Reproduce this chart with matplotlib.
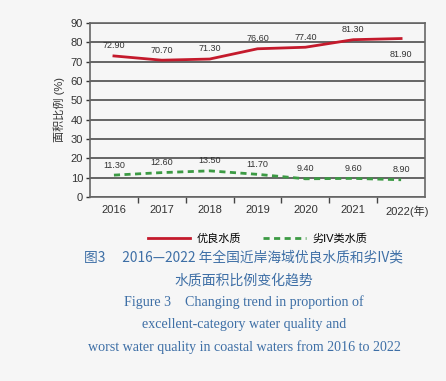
import matplotlib.pyplot as plt
import matplotlib.transforms as mtransforms
from matplotlib.ticker import FixedLocator

plt.rcParams['font.family'] = ['Liberation Sans', 'Noto Sans CJK SC', 'DejaVu Sans']

years = ['2016', '2017', '2018', '2019', '2020', '2021', '2022(年)']
excellent = [72.9, 70.7, 71.3, 76.6, 77.4, 81.3, 81.9]
worst = [11.3, 12.6, 13.5, 11.7, 9.4, 9.6, 8.9]
y_ticks = [0, 10, 20, 30, 40, 50, 60, 70, 80, 90]

bg = '#f6f6f6'
red = '#c41a2c'
green = '#3c9a44'
blue = '#3e6fa6'

fig = plt.figure(figsize=(4.46, 3.81), dpi=100, facecolor=bg)
ax = fig.add_axes([0.2018, 0.483, 0.7512, 0.457], facecolor=bg)

x = list(range(len(years)))
ax.plot(x, excellent, color=red, lw=2, label='优良水质', zorder=3)
ax.plot(x, worst, color=green, lw=2, ls=(0, (2.2, 1.6)), label='劣IV类水质', zorder=3)

for i, v in enumerate(excellent):
    off = -8 if i == 6 else 4
    va = 'top' if i == 6 else 'bottom'
    ax.annotate(f'{v:.2f}', (i, v), xytext=(0, off), textcoords='offset points',
                ha='center', va=va, fontsize=6.5, color='#333333')
for i, v in enumerate(worst):
    ax.annotate(f'{v:.2f}', (i, v), xytext=(0, 4), textcoords='offset points',
                ha='center', va='bottom', fontsize=6.5, color='#333333')

ax.set_xlim(-0.5, 6.5)
ax.set_ylim(0, 90)
ax.set_yticks(y_ticks)
ax.set_xticks(x)
ax.set_xticklabels(years)
ax.xaxis.set_minor_locator(FixedLocator([i + 0.5 for i in range(6)]))
ax.tick_params(axis='x', which='major', length=0, labelsize=8, pad=6, colors='#333333')
ax.tick_params(axis='x', which='minor', length=4, width=1, color='#444444', direction='out')
ax.tick_params(axis='y', length=3, width=1, labelsize=8, pad=2, colors='#333333')
ax.grid(axis='y', color='#4c4c4c', lw=1.2, zorder=1)
for s in ax.spines.values():
    s.set_color('#666666')
    s.set_linewidth(1.2)

# shift the last label so "2022" stays under its point and "(年)" hangs right
last = ax.get_xticklabels()[-1]
last.set_transform(last.get_transform() +
                   mtransforms.ScaledTranslation(6 / 100, 0, fig.dpi_scale_trans))

ax.set_ylabel('面积比例 (%)', fontsize=8, color='#333333', labelpad=4)

ax.legend(loc='center', bbox_to_anchor=(0.5, -0.24), ncol=2, frameon=False,
          fontsize=8, handlelength=3.8, columnspacing=2.0, handletextpad=0.6)

cx = 0.547
fig.text(cx, 0.325, '图3\u3000 2016—2022 年全国近岸海域优良水质和劣IV类',
         ha='center', va='center', fontsize=9.9, color=blue, family=['Noto Sans CJK SC'])
fig.text(cx, 0.265, '水质面积比例变化趋势', ha='center', va='center',
         fontsize=10, color=blue, family=['Noto Sans CJK SC'])
eng = ['Figure 3    Changing trend in proportion of',
       'excellent-category water quality and',
       'worst water quality in coastal waters from 2016 to 2022']
for k, line in enumerate(eng):
    fig.text(cx, 0.207 - k * 0.0585, line, ha='center', va='center',
             fontsize=10.1, color=blue, family=['Liberation Serif'])

fig.savefig('out.png', dpi=100, facecolor=bg)
